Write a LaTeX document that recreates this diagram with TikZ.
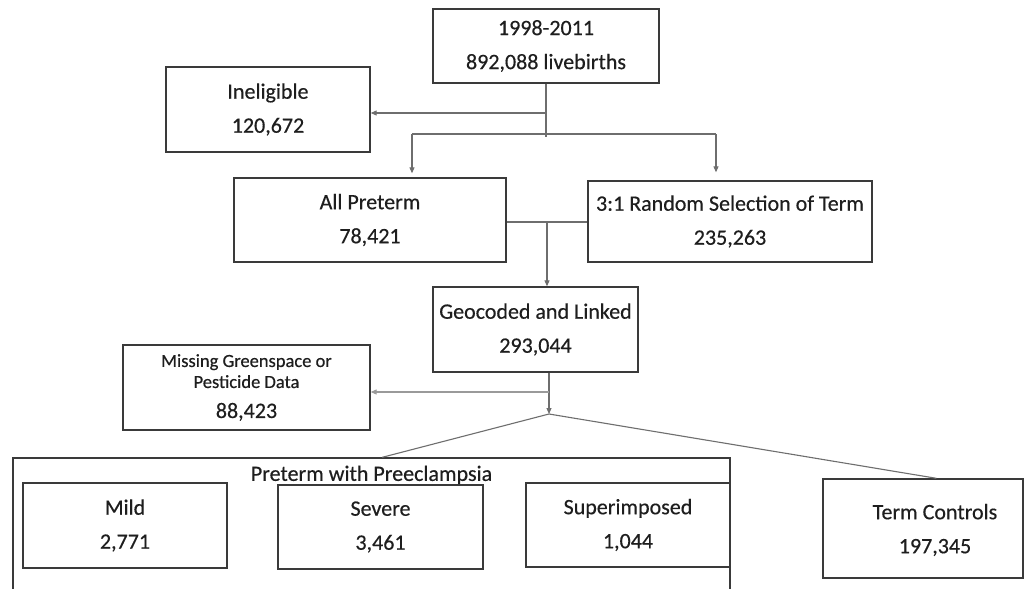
\documentclass[tikz,border=0pt]{standalone}
\usepackage{fontspec}
\setmainfont{Carlito}[FakeBold=0.4]
\usetikzlibrary{arrows.meta}
\definecolor{boxc}{HTML}{3A3A3A}
\definecolor{linec}{HTML}{6E6E6E}
\definecolor{linel}{HTML}{9A9A9A}
\definecolor{txt}{HTML}{1E1E1E}
\begin{document}
\begin{tikzpicture}[x=1pt,y=-1pt,
  box/.style={draw=boxc, line width=1.4pt, inner sep=0pt, align=center, text=txt, font=\fontsize{22}{34}\selectfont},
  plain/.style={inner sep=0pt, align=center, text=txt, font=\fontsize{22}{34}\selectfont},
  conn/.style={draw=linec, line width=1.1pt},
  arr/.style={conn, -{Triangle[length=6pt,width=5pt]}}
]
\useasboundingbox (0,0) rectangle (1029,589);
\clip (0,0) rectangle (1029,589);
\fill[white] (0,0) rectangle (1029,589);

% boxes
\node[box, minimum width=226pt, minimum height=74pt] (top) at (546,46) {1998-2011\\892,088 livebirths};
\node[box, minimum width=204pt, minimum height=85pt] (inel) at (268,109.5) {Ineligible\\120,672};
\node[box, minimum width=272pt, minimum height=84pt] (allpt) at (370,220) {All Preterm\\78,421};
\node[box, minimum width=284pt, minimum height=81pt] (rand) at (730,221.5) {3:1 Random Selection of Term\\235,263};
\node[box, minimum width=205pt, minimum height=85pt] (geo) at (535.5,329.5) {Geocoded and Linked\\293,044};
\node[box, minimum width=247pt, minimum height=85pt, font=\fontsize{18.5}{21}\selectfont] (miss) at (246.5,387.5)
  {\rule{0pt}{8pt}Missing Greenspace or\\Pesticide Data\\[9pt]{\fontsize{22}{22}\selectfont 88,423}};

\node[draw=boxc, line width=1.4pt, inner sep=0pt, minimum width=717pt, minimum height=160pt] (grp) at (371.5,538) {};
\node[plain, font=\fontsize{22}{26}\selectfont] (grpt) at (371.5,475) {Preterm with Preeclampsia};
\node[box, minimum width=204pt, minimum height=85pt] (mild) at (125,525.5) {Mild\\2,771};
\node[box, minimum width=205pt, minimum height=84pt] (sev) at (380.5,527) {Severe\\3,461};
\node[box, minimum width=204pt, minimum height=84pt] (sup) at (628,525) {Superimposed\\1,044};

\node[draw=boxc, line width=1.4pt, inner sep=0pt, minimum width=200pt, minimum height=99pt] (term) at (923,528.5) {};
\node[plain] (termt) at (935,530) {Term Controls\\197,345};

% connectors
\coordinate (jtop) at (546,137);
\coordinate (jinel) at (546,113);
\coordinate (jl) at (412,134);
\coordinate (jr) at (716,134);
\coordinate (jm) at (547,222);
\coordinate (apex) at (549,414);
\coordinate (jmiss) at (549,392);
\path (grp.north west) ++(370,0) coordinate (gtop);
\path (term.north west) ++(114,0) coordinate (ttop);

\draw[conn] (top.south) -- (jtop);
\draw[arr] (jinel) -- (jinel -| inel.east);
\draw[conn] (jl) -- (jr);
\draw[arr, shorten >=4pt] (jl) -- (jl |- allpt.north);
\draw[arr, shorten >=8pt] (jr) -- (jr |- rand.north);
\draw[conn] (jm -| allpt.east) -- (jm -| rand.west);
\draw[arr] (jm) -- (jm |- geo.north);
\draw[arr] (apex |- geo.south) -- (apex);
\draw[arr, draw=linel] (jmiss) -- (jmiss -| miss.east);
\draw[conn] (apex) -- (gtop);
\draw[conn] (apex) -- (ttop);
\end{tikzpicture}
\end{document}
